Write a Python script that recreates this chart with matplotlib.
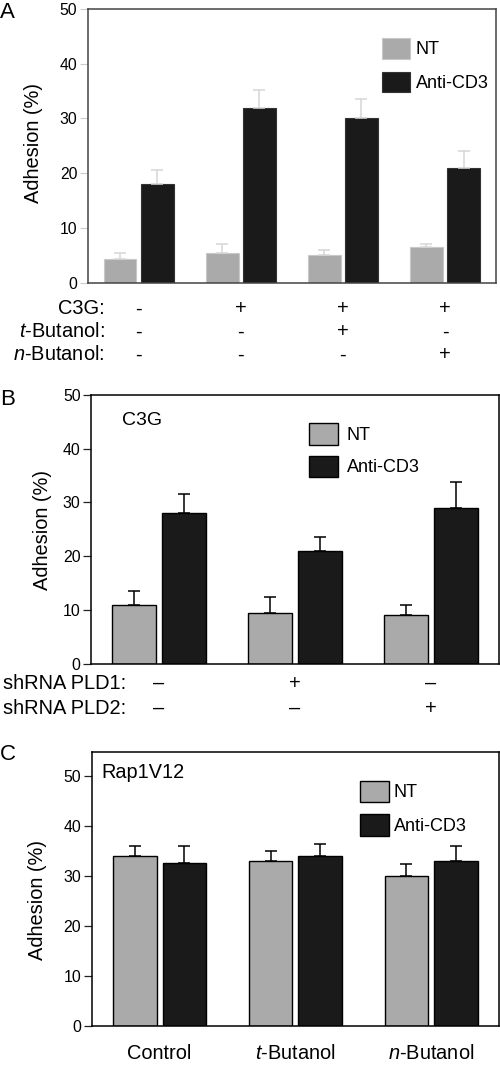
import matplotlib.pyplot as plt
import numpy as np

plt.rcParams['font.family'] = ['Liberation Sans', 'DejaVu Sans']
plt.rcParams['mathtext.fontset'] = 'custom'
plt.rcParams['mathtext.rm'] = 'Liberation Sans'
plt.rcParams['mathtext.it'] = 'Liberation Sans:italic'

# panel A: C3G / butanol treatment
a_nt = [4.4, 5.5, 5.0, 6.5]
a_nt_err = [1.1, 1.5, 0.9, 0.5]
a_cd3 = [18.0, 32.0, 30.0, 21.0]
a_cd3_err = [2.5, 3.2, 3.6, 3.0]
a_rows = ['C3G:', r'$\it{t}$-Butanol:', r'$\it{n}$-Butanol:']
a_signs = [['-', '+', '+', '+'],
           ['-', '-', '+', '-'],
           ['-', '-', '-', '+']]

# panel B: shRNA knockdown in C3G cells
b_nt = [11.0, 9.5, 9.0]
b_nt_err = [2.5, 2.9, 1.9]
b_cd3 = [28.0, 21.0, 29.0]
b_cd3_err = [3.5, 2.5, 4.9]
b_rows = ['shRNA PLD1:', 'shRNA PLD2:']
b_signs = [['–', '+', '–'],
           ['–', '–', '+']]

# panel C: Rap1V12 cells
c_groups = ['Control', r'$\it{t}$-Butanol', r'$\it{n}$-Butanol']
c_nt = [34.0, 33.0, 30.0]
c_nt_err = [1.9, 1.9, 2.4]
c_cd3 = [32.5, 34.0, 33.0]
c_cd3_err = [3.4, 2.4, 2.9]

NT_COLOR = '#aaaaaa'
CD3_COLOR = '#1a1a1a'
W = 0.32
OFF = 0.182


def draw_bars(ax, nt, nt_err, cd3, cd3_err, edge, err_color, light=False):
    x = np.arange(len(nt))
    if light:
        b1 = ax.bar(x - OFF, nt, W, color=NT_COLOR, edgecolor='#c8c8c8', linewidth=0.8, label='NT')
        b2 = ax.bar(x + OFF, cd3, W, color=CD3_COLOR, edgecolor='#333333', linewidth=0.8, label='Anti-CD3')
    else:
        b1 = ax.bar(x - OFF, nt, W, color=NT_COLOR, edgecolor=edge, linewidth=1.0, label='NT')
        b2 = ax.bar(x + OFF, cd3, W, color=CD3_COLOR, edgecolor=edge, linewidth=1.0, label='Anti-CD3')
    ax.errorbar(x - OFF, nt, yerr=[np.zeros(len(nt)), nt_err], fmt='none',
                ecolor=err_color, elinewidth=1.1, capsize=4.2, capthick=1.1, zorder=3)
    ax.errorbar(x + OFF, cd3, yerr=[np.zeros(len(cd3)), cd3_err], fmt='none',
                ecolor=err_color, elinewidth=1.1, capsize=4.2, capthick=1.1, zorder=3)
    ax.set_xlim(-0.5, len(nt) - 0.5)
    ax.set_xticks([])
    return b1, b2


fig = plt.figure(figsize=(5, 10.65), dpi=100)

# ---- A ----
axA = fig.add_axes([0.1754, 0.7346, 0.8166, 0.2569])
draw_bars(axA, a_nt, a_nt_err, a_cd3, a_cd3_err, '#555555', '#d6d6d6', light=True)
axA.set_ylim(0, 50)
axA.set_yticks(range(0, 51, 10))
axA.tick_params(axis='y', length=6, width=0.8, color='#cccccc', pad=1.5, labelsize=11.3)
for s in axA.spines.values():
    s.set_color('#444444')
    s.set_linewidth(1.1)
axA.set_ylabel('Adhesion (%)', fontsize=14.4)
axA.yaxis.set_label_coords(-0.109, 0.51)
axA.legend(loc='upper left', bbox_to_anchor=(0.721, 0.895), frameon=False, borderpad=0,
           borderaxespad=0, handlelength=1.55, handleheight=1.39, labelspacing=0.72,
           handletextpad=0.32, fontsize=13)
for r, (lab, ys) in enumerate(zip(a_rows, [-0.096, -0.180, -0.264])):
    axA.text(0.041, ys, lab, transform=axA.transAxes, ha='right', va='center', fontsize=14.4)
    for i, s in enumerate(a_signs[r]):
        axA.text(i, ys, s, transform=axA.get_xaxis_transform(), ha='center', va='center', fontsize=14.4)

# ---- B ----
axB = fig.add_axes([0.182, 0.3768, 0.816, 0.2523])
draw_bars(axB, b_nt, b_nt_err, b_cd3, b_cd3_err, 'black', 'black')
axB.set_ylim(0, 50)
axB.set_yticks(range(0, 51, 10))
axB.tick_params(axis='y', length=6, width=0.9, color='#222222', pad=1.5, labelsize=11.4)
for s in axB.spines.values():
    s.set_linewidth(1.1)
axB.set_ylabel('Adhesion (%)', fontsize=14.4)
axB.yaxis.set_label_coords(-0.096, 0.498)
axB.legend(loc='upper left', bbox_to_anchor=(0.535, 0.895), frameon=False, borderpad=0,
           borderaxespad=0, handlelength=1.58, handleheight=1.44, labelspacing=0.62,
           handletextpad=0.5, fontsize=13)
axB.text(0.076, 0.904, 'C3G', transform=axB.transAxes, ha='left', va='center', fontsize=14)
for r, (lab, ys) in enumerate(zip(b_rows, [-0.073, -0.166])):
    axB.text(0.086, ys, lab, transform=axB.transAxes, ha='right', va='center', fontsize=14.4)
    for i, s in enumerate(b_signs[r]):
        axB.text(i, ys, s, transform=axB.get_xaxis_transform(), ha='center', va='center', fontsize=14.4)

# ---- C ----
axC = fig.add_axes([0.1834, 0.0366, 0.8146, 0.2576])
draw_bars(axC, c_nt, c_nt_err, c_cd3, c_cd3_err, 'black', 'black')
axC.set_ylim(0, 54.86)
axC.set_yticks(range(0, 51, 10))
axC.tick_params(axis='y', length=6, width=0.9, color='#222222', pad=1.5, labelsize=11.4)
for s in axC.spines.values():
    s.set_linewidth(1.1)
axC.set_xticks(np.arange(len(c_groups)))
axC.set_xticklabels(c_groups, fontsize=14.4)
axC.tick_params(axis='x', length=0, pad=13)
axC.set_ylabel('Adhesion (%)', fontsize=14.4)
axC.yaxis.set_label_coords(-0.110, 0.459)
axC.legend(loc='upper left', bbox_to_anchor=(0.659, 0.894), frameon=False, borderpad=0,
           borderaxespad=0, handlelength=1.6, handleheight=1.44, labelspacing=0.68,
           handletextpad=0.26, fontsize=13)
axC.text(0.0246, 0.925, 'Rap1V12', transform=axC.transAxes, ha='left', va='center', fontsize=14.3)

# panel letters
fig.text(0.0, 1 - 1.5 / 1065, 'A', ha='left', va='top', fontsize=16)
fig.text(0.0, 1 - 389 / 1065, 'B', ha='left', va='top', fontsize=16)
fig.text(0.0, 1 - 744 / 1065, 'C', ha='left', va='top', fontsize=16)

plt.savefig('out.png', dpi=100)
